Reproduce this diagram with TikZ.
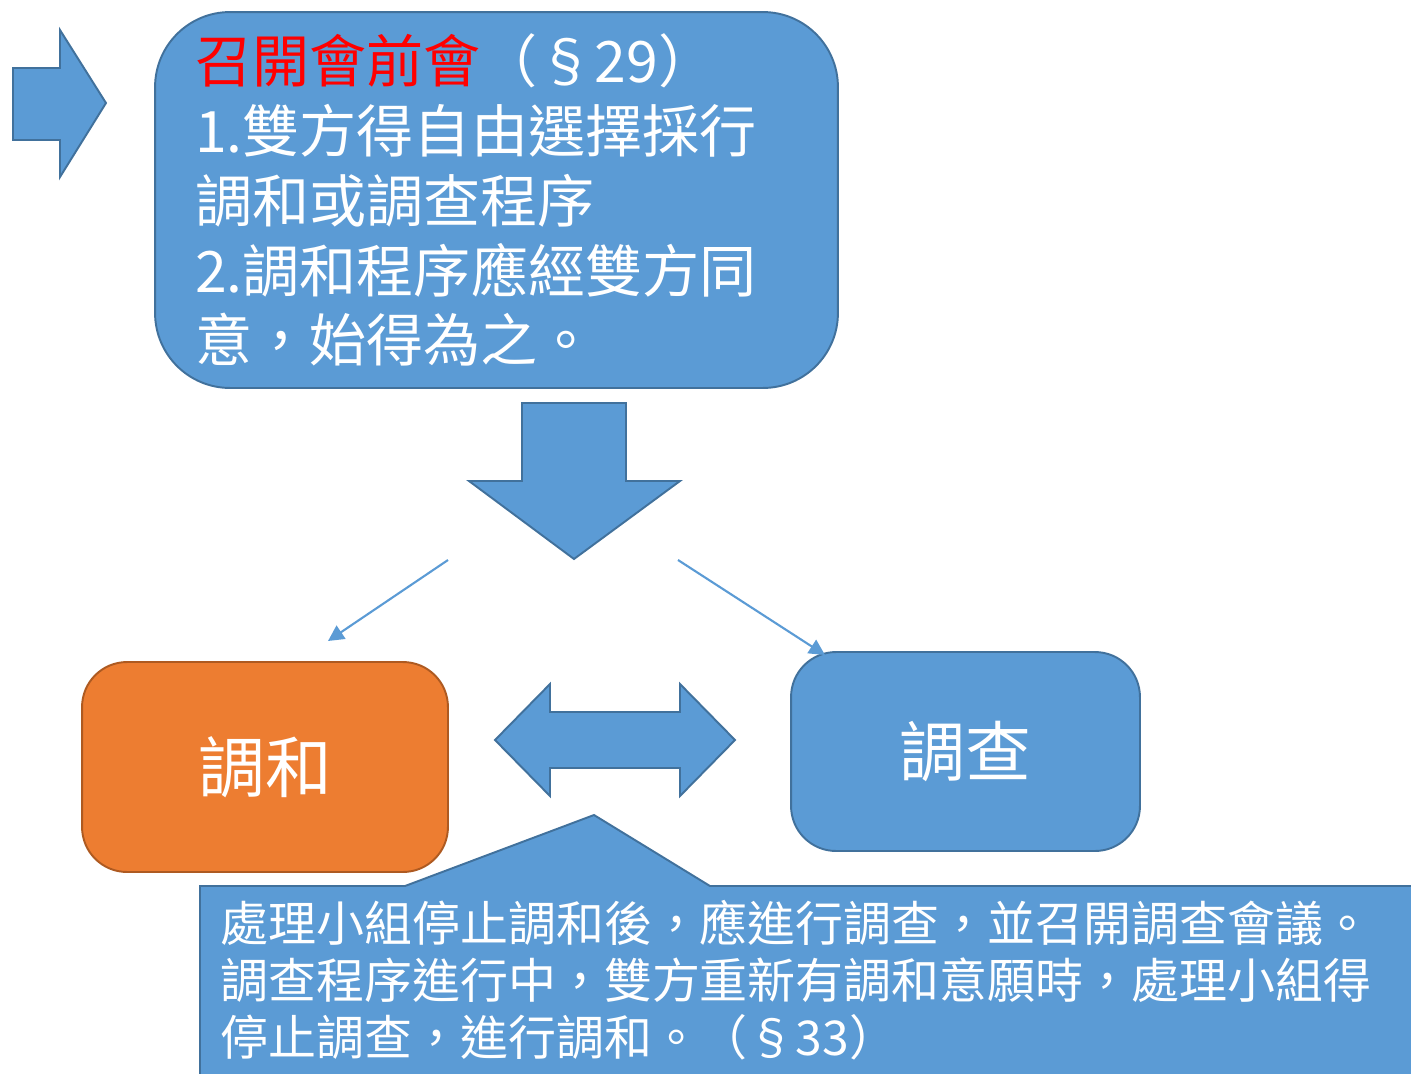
\documentclass[tikz,border=0pt]{standalone}
\usepackage{fontspec}
\setmainfont{Noto Sans CJK TC}
\usetikzlibrary{arrows.meta}

\definecolor{boxblue}{HTML}{5B9BD5}
\definecolor{boxline}{HTML}{41719C}
\definecolor{boxorange}{HTML}{ED7D31}
\definecolor{orangeline}{HTML}{AE5A21}

\tikzset{
    bluebox/.style={draw=boxline, fill=boxblue, line width=1.1pt, text=white},
    orangebox/.style={draw=orangeline, fill=boxorange, line width=1.1pt, text=white},
    blockarrow/.style={draw=boxline, fill=boxblue, line width=1.1pt, line join=miter},
    thinarrow/.style={draw=boxblue, line width=1.2pt, -{Triangle[length=9pt,width=9pt]}},
}

\begin{document}
\begin{tikzpicture}[x=0.02cm, y=-0.02cm]
        \useasboundingbox (0,0) rectangle (1411,1073);
        \clip (0,0) rectangle (1411,1073);
        % arrow into the first step
        \draw[blockarrow] (13,68) -- (60,68) -- (60,30) -- (106,103)
            -- (60,177) -- (60,140) -- (13,140) -- cycle;
        \node[bluebox, rounded corners=1.5cm, minimum width=13.66cm, minimum height=7.52cm,
              text width=12.06cm, inner xsep=0.8cm, align=left,
              font=\fontsize{32.5}{39.8}\selectfont] (meeting) at (496.5,200)
            {\textcolor{red}{召開會前會}（§29）\\1.雙方得自由選擇採行\\調和或調查程序\\2.調和程序應經雙方同\\意，始得為之。};
        \draw[blockarrow] (522,403) -- (626,403) -- (626,481) -- (680,481)
            -- (574,559) -- (469,481) -- (522,481) -- cycle;
        % the two procedures
        \node[orangebox, rounded corners=0.9cm, minimum width=7.32cm, minimum height=4.2cm,
              font=\fontsize{38}{44}\selectfont] (harmony) at (265,767) {調和};
        \node[bluebox, rounded corners=0.9cm, minimum width=6.98cm, minimum height=3.98cm,
              font=\fontsize{37.5}{44}\selectfont] (inquiry) at (965.5,751.5) {調查};
        \coordinate (splitL) at (448,560);
        \coordinate (splitR) at (678,560);
        \coordinate (toHarmony) at (328,641);
        \coordinate (toInquiry) at (825,655);
        \draw[thinarrow] (splitL) -- (toHarmony);
        \draw[thinarrow] (splitR) -- (toInquiry);
        \draw[blockarrow] (495,740) -- (550,684) -- (550,712) -- (680,712) -- (680,684)
            -- (735,740) -- (680,796) -- (680,768) -- (550,768) -- (550,796) -- cycle;
        % callout under the boxes
        \draw[blockarrow] (200,886) -- (405,886) -- (594,815) -- (710,886) -- (1430,886)
            -- (1430,1090) -- (200,1090) -- cycle;
        \node[anchor=north west, inner sep=0pt, align=left, text=white,
              font=\fontsize{27.3}{32.4}\selectfont] (switch) at (220,900)
            {處理小組停止調和後，應進行調查，並召開調查會議。\\調查程序進行中，雙方重新有調和意願時，處理小組得\\停止調查，進行調和。（§33）};
\end{tikzpicture}
\end{document}
